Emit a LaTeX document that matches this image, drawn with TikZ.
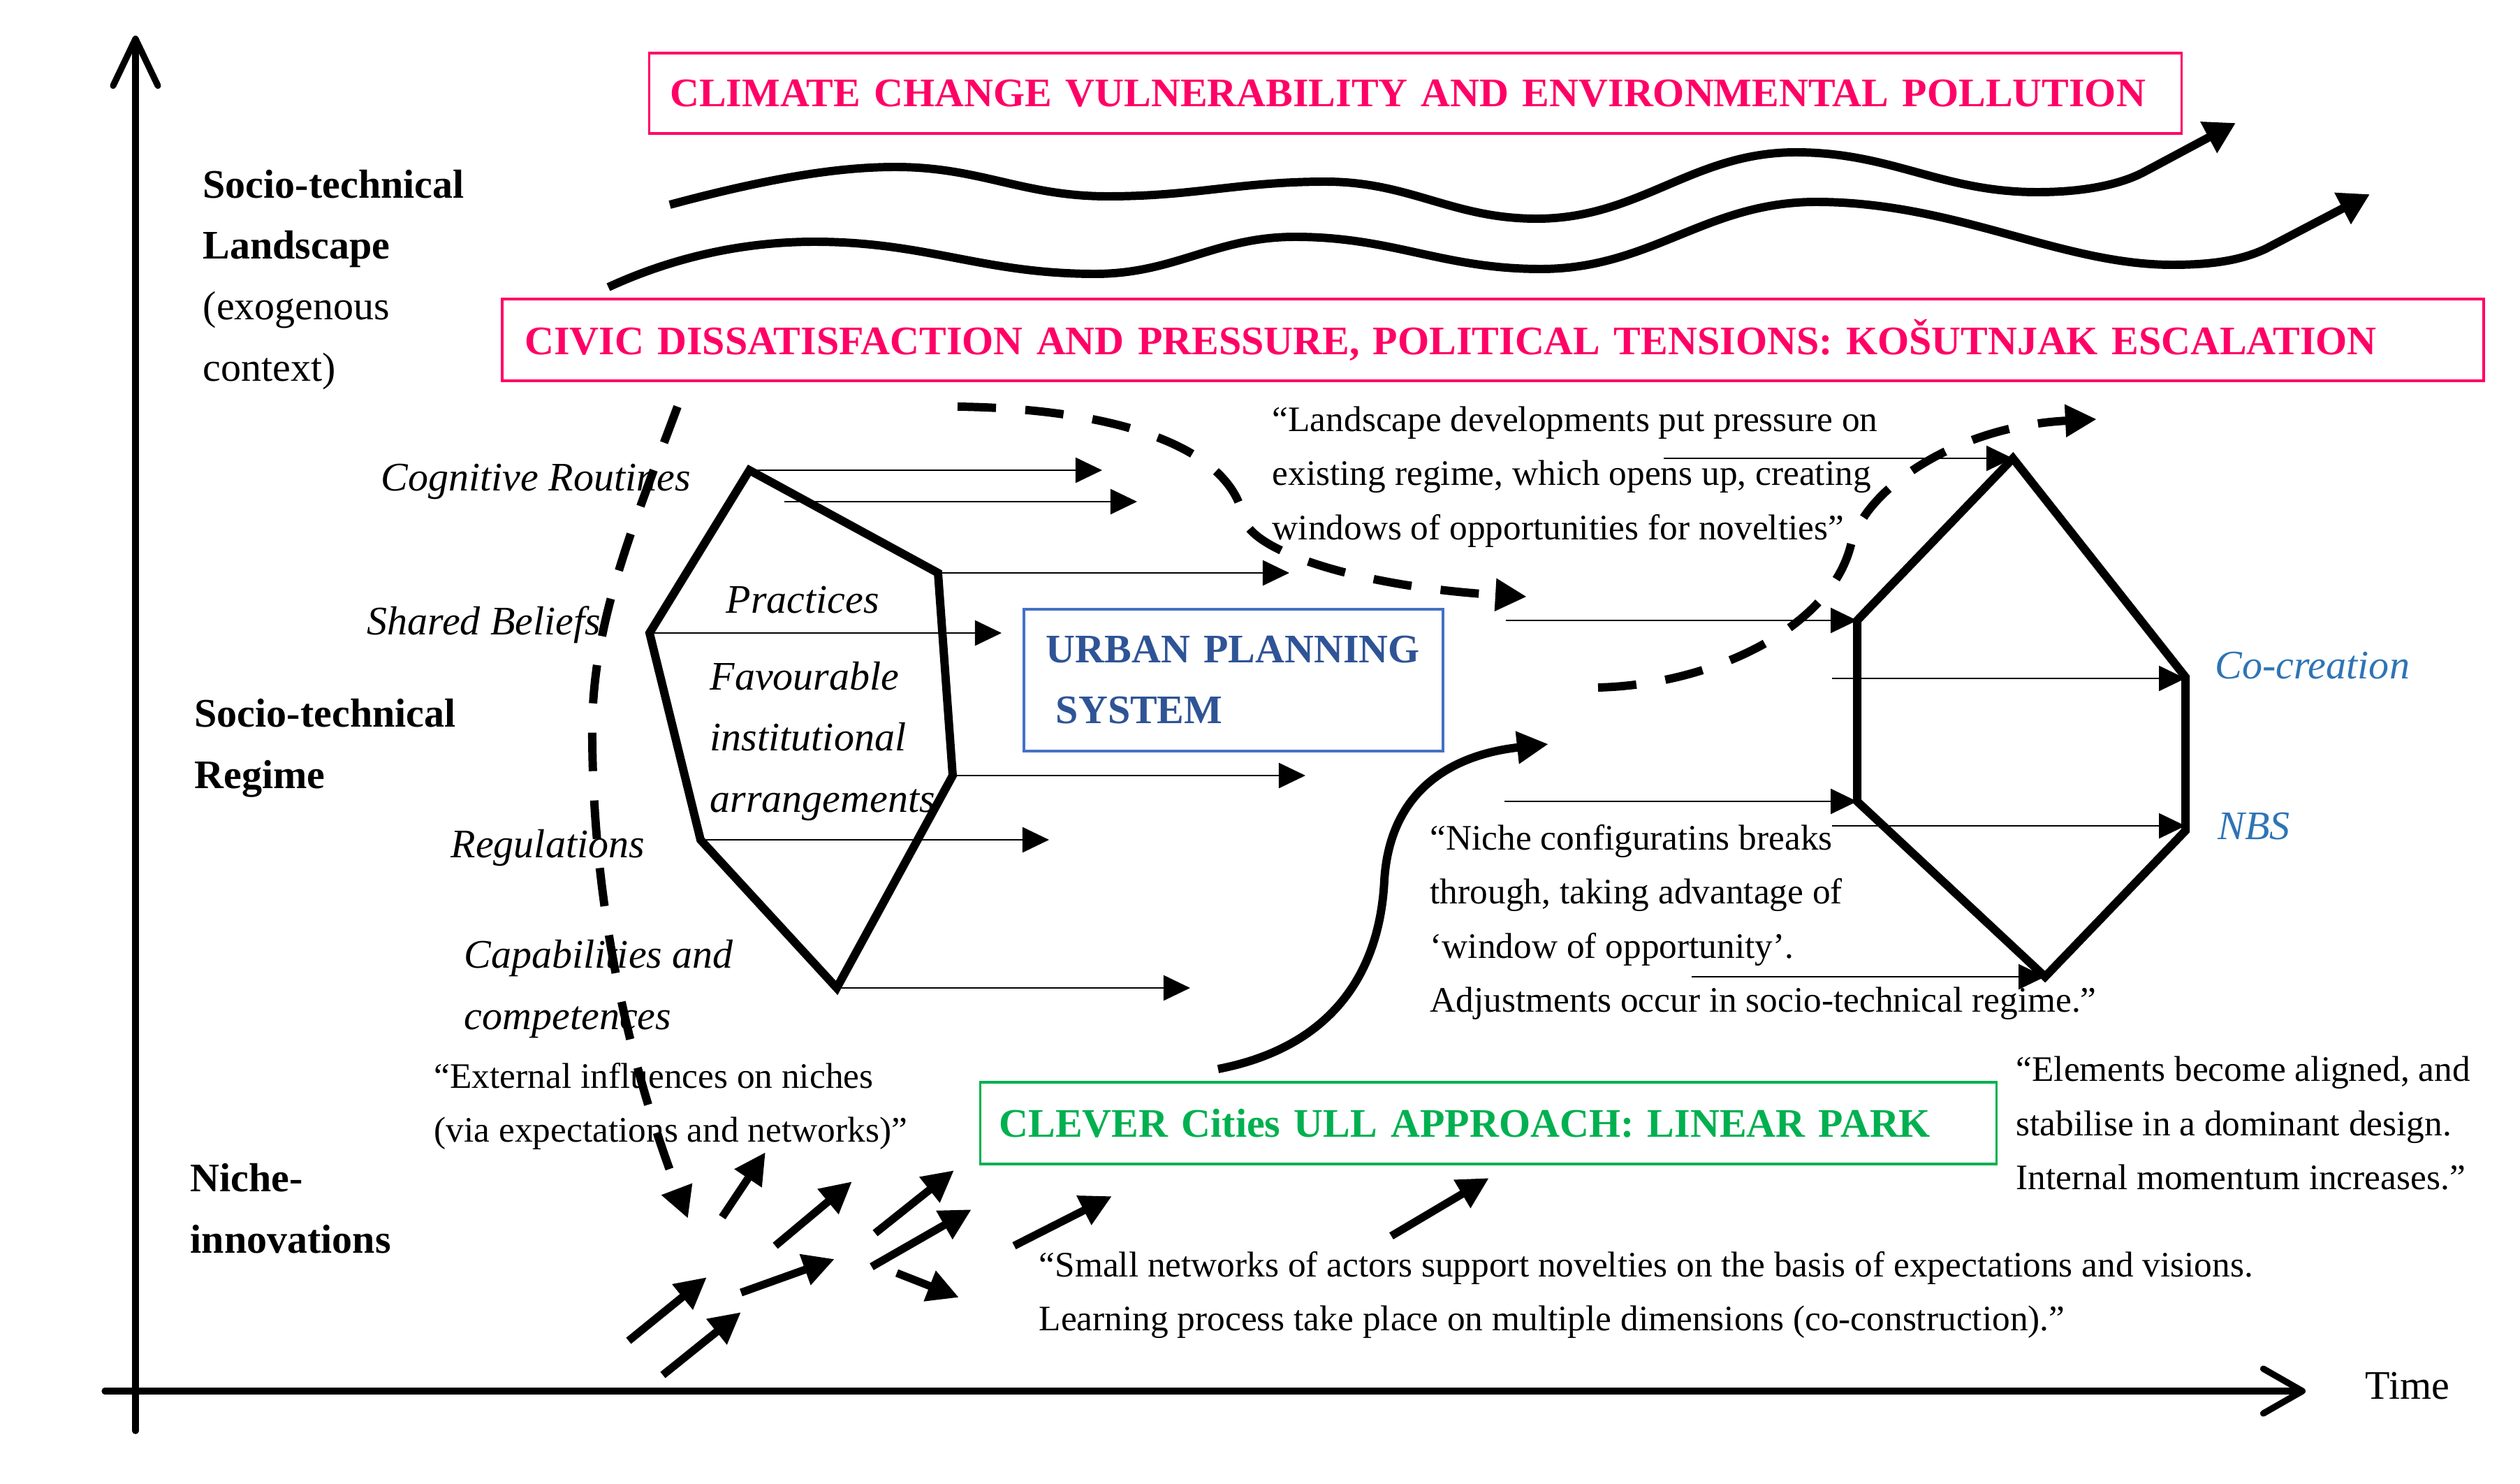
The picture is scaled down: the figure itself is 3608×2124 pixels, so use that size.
\documentclass[tikz,border=0pt]{standalone}
\usepackage{fontspec}
\setmainfont{Liberation Serif}
\usetikzlibrary{arrows.meta}
\definecolor{pinkc}{RGB}{255,0,102}
\definecolor{greenc}{RGB}{0,176,80}
\definecolor{bluet}{RGB}{47,84,150}
\definecolor{blueb}{RGB}{68,114,196}
\definecolor{bluel}{RGB}{46,116,181}
\newcommand\mylbl{\fontsize{16.5}{24.75}\selectfont}
\newcommand\myquote{\fontsize{14.6}{21.9}\selectfont}
\begin{document}
\begin{tikzpicture}[x=0.01cm,y=-0.01cm,
  heavy/.style={line width=3.4pt},
  axisline/.style={line width=2.6pt, line cap=round},
  thinarr/.style={line width=0.7pt,-{Triangle[length=3.8mm,width=3.6mm]}},
  bigtip/.style={-{Triangle[length=4.5mm,width=4.4mm]}},
  wavetip/.style={-{Triangle[length=4.4mm,width=4.8mm]}},
  dashheavy/.style={heavy, dash pattern=on 0.55cm off 0.42cm},
  hexline/.style={line width=3.4pt, line join=miter},
  lbl/.style={font=\mylbl, inner sep=0pt, align=left, anchor=base west},
  ilbl/.style={font=\mylbl\itshape, inner sep=0pt, align=left, anchor=base west},
  qt/.style={font=\myquote, inner sep=0pt, align=left, anchor=base west},
  boxed/.style={draw, line width=1pt, inner ysep=0pt, align=left, font=\mylbl\bfseries}
]
\fill[white] (0,0) rectangle (3608,2124);
\useasboundingbox (0,0) rectangle (3608,2124);

% axes
\coordinate (yb) at (194,2048);
\coordinate (yt) at (194,51);
\coordinate (xl) at (150,1991);
\coordinate (xr) at (3301,1991);
\draw[axisline,-{Straight Barb[length=6.7mm,width=6.4mm,round]}] (yb) -- (yt);
\draw[axisline,-{Straight Barb[length=5.6mm,width=6.4mm,round]}] (xl) -- (xr);
\node[lbl] (time) at (3386,2002) {Time};

% left labels (anchor = baseline of last line)
\node[lbl] (land) at (290,545) {\textbf{Socio-technical}\\\textbf{Landscape}\\(exogenous\\context)};
\node[lbl] (regime) at (278,1128) {\textbf{Socio-technical}\\\textbf{Regime}};
\node[lbl] (niche) at (272,1793) {\textbf{Niche-}\\\textbf{innovations}};

% landscape boxes
\node[boxed, draw=pinkc, text=pinkc, minimum width=21.93cm, minimum height=1.15cm,
  inner xsep=0.3cm, text width=21.33cm] (clim) at (2026.5,133.5)
  {CLIMATE CHANGE VULNERABILITY AND ENVIRONMENTAL POLLUTION};
\node[boxed, draw=pinkc, text=pinkc, minimum width=28.35cm, minimum height=1.17cm,
  inner xsep=0.32cm, text width=27.71cm] (civic) at (2137.5,486.5)
  {CIVIC DISSATISFACTION AND PRESSURE, POLITICAL TENSIONS: KOŠUTNJAK ESCALATION};

% waves
\coordinate (w1s) at (959,293);
\coordinate (w1e) at (3201,176);
\draw[heavy,wavetip] (w1s) .. controls (1100,255) and (1200,239) .. (1282,239)
  .. controls (1404,239) and (1464,281) .. (1586,281)
  .. controls (1711,281) and (1773,260) .. (1898,260)
  .. controls (2019,260) and (2079,313) .. (2200,313)
  .. controls (2348,313) and (2423,218) .. (2571,218)
  .. controls (2709,218) and (2779,275) .. (2917,275)
  .. controls (2990,275) and (3040,262) .. (3070,246) -- (w1e);
\coordinate (w2s) at (871,411);
\coordinate (w2e) at (3393,278);
\draw[heavy,wavetip] (w2s) .. controls (960,370) and (1060,346) .. (1166,346)
  .. controls (1327,346) and (1407,392) .. (1568,392)
  .. controls (1682,392) and (1740,339) .. (1854,339)
  .. controls (1995,339) and (2065,385) .. (2206,385)
  .. controls (2364,385) and (2442,289) .. (2600,289)
  .. controls (2800,289) and (2950,379) .. (3110,379)
  .. controls (3170,379) and (3210,372) .. (3244,356) -- (w2e);

% left hexagon (regime elements)
\coordinate (L1) at (1073,673);
\coordinate (L2) at (1343,820);
\coordinate (L3) at (1364,1110);
\coordinate (L4) at (1198,1414);
\coordinate (L5) at (1003,1202);
\coordinate (L6) at (930,906);

\node[ilbl] (cog) at (545,702) {Cognitive Routines};
\node[ilbl] (shared) at (525,908) {Shared Beliefs};
\node[ilbl] (prac) at (1039,877) {Practices};
\node[ilbl] (fav) at (1016,1162) {Favourable\\institutional\\arrangements};
\node[ilbl] (reg) at (645,1227) {Regulations};
\node[ilbl] (cap) at (664,1473) {Capabilities and\\competences};

\coordinate (a1e) at (1578,673);
\coordinate (a2s) at (1123,718);
\coordinate (a2e) at (1628,718);
\coordinate (a3e) at (1846,820);
\coordinate (a4e) at (1434,906);
\coordinate (a5e) at (1869,1110);
\coordinate (a6e) at (1502,1202);
\coordinate (a7e) at (1704,1414);
\draw[thinarr] (L1) -- (a1e);
\draw[thinarr] (a2s) -- (a2e);
\draw[thinarr] (L2) -- (a3e);
\draw[thinarr] (L6) -- (a4e);
\draw[thinarr] (L3) -- (a5e);
\draw[thinarr] (L5) -- (a6e);
\draw[thinarr] (L4) -- (a7e);
\draw[hexline] (L1) -- (L2) -- (L3) -- (L4) -- (L5) -- (L6) -- cycle;

% urban planning system
\node[boxed, draw=blueb, text=bluet, minimum width=6cm, minimum height=2.03cm,
  inner xsep=0.32cm, text width=5.36cm] (ups) at (1766,973.5)
  {URBAN PLANNING\\\hspace*{0.14cm}SYSTEM};

% right hexagon (new regime)
\coordinate (R1) at (2882,656);
\coordinate (R2) at (3129,969);
\coordinate (R3) at (3129,1189);
\coordinate (R4) at (2928,1398);
\coordinate (R5) at (2659,1147);
\coordinate (R6) at (2659,888);
\coordinate (b1s) at (2382,656);
\coordinate (b2s) at (2156,888);
\coordinate (b3s) at (2623,971);
\coordinate (b3e) at (3129,971);
\coordinate (b4s) at (2154,1147);
\coordinate (b5s) at (2623,1182);
\coordinate (b5e) at (3129,1182);
\coordinate (b6s) at (2422,1398);
\draw[thinarr] (b1s) -- (R1);
\draw[thinarr] (b2s) -- (R6);
\draw[thinarr] (b3s) -- (b3e);
\draw[thinarr] (b4s) -- (R5);
\draw[thinarr] (b5s) -- (b5e);
\draw[thinarr] (b6s) -- (R4);
\draw[hexline] (R1) -- (R2) -- (R3) -- (R4) -- (R5) -- (R6) -- cycle;
\node[ilbl, text=bluel] (cocr) at (3171,971) {Co-creation};
\node[ilbl, text=bluel] (nbs) at (3175,1201) {NBS};

% quotes (anchor = baseline of last line)
\node[qt] (q1) at (1821,772) {“Landscape developments put pressure on\\existing regime, which opens up, creating\\windows of opportunities for novelties”};
\node[qt] (q2) at (2047,1448) {“Niche configuratins breaks\\through, taking advantage of\\‘window of opportunity’.\\Adjustments occur in socio-technical regime.”};
\node[qt] (q3) at (621,1634) {“External influences on niches\\(via expectations and networks)”};
\node[qt] (q4) at (1487,1904) {“Small networks of actors support novelties on the basis of expectations and visions.\\Learning process take place on multiple dimensions (co-construction).”};
\node[qt] (q5) at (2886,1702) {“Elements become aligned, and\\stabilise in a dominant design.\\Internal momentum increases.”};

% niche box
\node[boxed, draw=greenc, text=greenc, minimum width=14.54cm, minimum height=1.17cm,
  inner xsep=0.27cm, text width=14.0cm] (clever) at (2131,1607.5)
  {CLEVER Cities ULL APPROACH: LINEAR PARK};

% dashed pressure arrows
\coordinate (d1s) at (970,582);
\coordinate (d1e) at (985,1744);
\draw[dashheavy,bigtip] (d1s) .. controls (900,770) and (845,900) .. (848,1060)
  .. controls (850,1300) and (900,1520) .. (d1e);
\coordinate (d2s) at (1371,582);
\coordinate (d2e) at (2186,854);
\draw[dashheavy,bigtip] (d2s) .. controls (1600,585) and (1760,640) .. (1780,740)
  .. controls (1790,790) and (1950,840) .. (d2e);
\coordinate (d3s) at (2288,984);
\coordinate (d3e) at (3002,600);
\draw[dashheavy,bigtip] (d3s) .. controls (2450,980) and (2620,900) .. (2650,780)
  .. controls (2670,700) and (2800,610) .. (d3e);

% breakthrough arrow
\coordinate (s1s) at (1744,1530);
\coordinate (s1e) at (2217,1065);
\draw[heavy,bigtip] (s1s) .. controls (1900,1500) and (1975,1400) .. (1982,1260)
  .. controls (1990,1130) and (2080,1080) .. (s1e);

% niche arrows
\foreach \i/\xa/\ya/\xb/\yb in {1/900/1919/1012/1828, 2/949/1968/1061/1878,
  3/1061/1850/1195/1802, 4/1034/1742/1096/1649, 5/1110/1783/1220/1691,
  6/1253/1765/1366/1675, 7/1248/1813/1391/1731, 8/1284/1822/1373/1857,
  9/1452/1783/1592/1712, 10/1992/1769/2132/1686}{
  \coordinate (n\i s) at (\xa,\ya);
  \coordinate (n\i e) at (\xb,\yb);
  \draw[line width=3.2pt,bigtip] (n\i s) -- (n\i e);
}
\end{tikzpicture}
\end{document}
